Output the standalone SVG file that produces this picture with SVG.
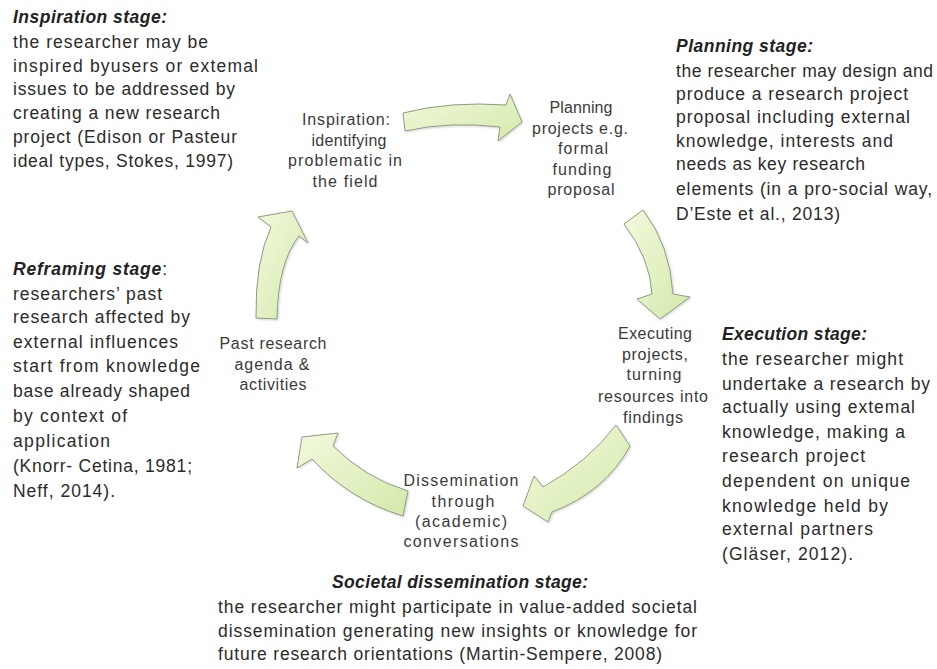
<svg xmlns="http://www.w3.org/2000/svg" width="937" height="669" viewBox="0 0 937 669">
<style>
.st{font-family:"Liberation Sans",Arial,sans-serif;font-size:17.5px;fill:#2b2b2b}
.tt{font-family:"Liberation Sans",Arial,sans-serif;font-size:17.5px;font-weight:bold;font-style:italic;fill:#222}
.nd{font-family:"Liberation Sans",Arial,sans-serif;font-size:16px;fill:#3a3a3a;text-anchor:middle}
.arr{fill:url(#g);stroke:#8f9c82;stroke-width:1;filter:url(#sh)}
</style>
<defs>
<linearGradient id="g" x1="0" y1="0" x2="1" y2="1">
<stop offset="0" stop-color="#f3f9de"/>
<stop offset="1" stop-color="#d3e9aa"/>
</linearGradient>
<filter id="sh" x="-20%" y="-20%" width="140%" height="140%">
<feDropShadow dx="1" dy="1" stdDeviation="1.2" flood-color="#000" flood-opacity="0.18"/>
</filter>
</defs>
<rect width="937" height="669" fill="#fff"/>

<g id="connectors">
<path class="arr" d="M403,113 Q450,101 506,105 L510,94 L522,122 L498,141 L500,127 Q450,121 405,131 Z"/>
<path class="arr" d="M624,224 L643,210 Q670,245 673,294 L690,297 L660,319 L637,299 L652,294 Q650,258 624,224 Z"/>
<path class="arr" d="M616,425 Q588,462 543,487 L534,476 L523,506 L548,522 L552,512 Q605,492 630,446 Z"/>
<path class="arr" d="M408,491 Q365,478 333,446 L338,433 L302,437 L297,468 L312,459 Q350,500 403,516 Z"/>
<path class="arr" d="M256,318 Q255,262 271,227 L258,217 L292,211 L308,243 L299,236 Q278,262 277,319 Z"/>
</g>

<g id="node-inspiration">
<text class="nd" x="346" y="125" textLength="88" lengthAdjust="spacing">Inspiration:</text>
<text class="nd" x="349" y="146" textLength="75" lengthAdjust="spacing">identifying</text>
<text class="nd" x="345" y="166" textLength="114" lengthAdjust="spacing">problematic in</text>
<text class="nd" x="345" y="187" textLength="65" lengthAdjust="spacing">the field</text>
</g>

<g id="node-planning">
<text class="nd" x="581" y="113" textLength="63" lengthAdjust="spacing">Planning</text>
<text class="nd" x="580" y="134" textLength="96" lengthAdjust="spacing">projects e.g.</text>
<text class="nd" x="583" y="154" textLength="50" lengthAdjust="spacing">formal</text>
<text class="nd" x="582" y="175" textLength="59" lengthAdjust="spacing">funding</text>
<text class="nd" x="581" y="195" textLength="67" lengthAdjust="spacing">proposal</text>
</g>

<g id="node-executing">
<text class="nd" x="655" y="339" textLength="74" lengthAdjust="spacing">Executing</text>
<text class="nd" x="655" y="360" textLength="66" lengthAdjust="spacing">projects,</text>
<text class="nd" x="654" y="380" textLength="55" lengthAdjust="spacing">turning</text>
<text class="nd" x="653" y="402" textLength="110" lengthAdjust="spacing">resources into</text>
<text class="nd" x="653" y="423" textLength="60" lengthAdjust="spacing">findings</text>
</g>

<g id="node-dissemination">
<text class="nd" x="461" y="486" textLength="115" lengthAdjust="spacing">Dissemination</text>
<text class="nd" x="463" y="507" textLength="63" lengthAdjust="spacing">through</text>
<text class="nd" x="461" y="527" textLength="92" lengthAdjust="spacing">(academic)</text>
<text class="nd" x="461" y="547" textLength="115" lengthAdjust="spacing">conversations</text>
</g>

<g id="node-past">
<text class="nd" x="273" y="349" textLength="107" lengthAdjust="spacing">Past research</text>
<text class="nd" x="272" y="370" textLength="75" lengthAdjust="spacing">agenda &amp;</text>
<text class="nd" x="273" y="390" textLength="67" lengthAdjust="spacing">activities</text>
</g>

<g id="inspiration-stage">
<text class="tt" x="13" y="23" textLength="154" lengthAdjust="spacing">Inspiration stage:</text>
<text class="st" x="13" y="48" textLength="195" lengthAdjust="spacing">the researcher may be</text>
<text class="st" x="13" y="72" textLength="245" lengthAdjust="spacing">inspired byusers or extemal</text>
<text class="st" x="13" y="95" textLength="222" lengthAdjust="spacing">issues to be addressed by</text>
<text class="st" x="13" y="119" textLength="207" lengthAdjust="spacing">creating a new research</text>
<text class="st" x="13" y="143" textLength="224" lengthAdjust="spacing">project (Edison or Pasteur</text>
<text class="st" x="13" y="167" textLength="220" lengthAdjust="spacing">ideal types, Stokes, 1997)</text>
</g>

<g id="planning-stage">
<text class="tt" x="676" y="52" textLength="137" lengthAdjust="spacing">Planning stage:</text>
<text class="st" x="676" y="77" textLength="257" lengthAdjust="spacing">the researcher may design and</text>
<text class="st" x="676" y="100" textLength="232" lengthAdjust="spacing">produce a research project</text>
<text class="st" x="676" y="123" textLength="234" lengthAdjust="spacing">proposal including external</text>
<text class="st" x="676" y="147" textLength="217" lengthAdjust="spacing">knowledge, interests and</text>
<text class="st" x="676" y="170" textLength="189" lengthAdjust="spacing">needs as key research</text>
<text class="st" x="676" y="195" textLength="256" lengthAdjust="spacing">elements (in a pro-social way,</text>
<text class="st" x="676" y="220" textLength="164" lengthAdjust="spacing">D’Este et al., 2013)</text>
</g>

<g id="reframing-stage">
<text class="tt" x="13" y="275" textLength="154" lengthAdjust="spacing">Reframing stage<tspan style="font-weight:normal;font-style:normal">:</tspan></text>
<text class="st" x="13" y="300" textLength="149" lengthAdjust="spacing">researchers’ past</text>
<text class="st" x="13" y="323" textLength="177" lengthAdjust="spacing">research affected by</text>
<text class="st" x="13" y="348" textLength="165" lengthAdjust="spacing">external influences</text>
<text class="st" x="13" y="372" textLength="187" lengthAdjust="spacing">start from knowledge</text>
<text class="st" x="13" y="397" textLength="177" lengthAdjust="spacing">base already shaped</text>
<text class="st" x="13" y="422" textLength="114" lengthAdjust="spacing">by context of</text>
<text class="st" x="13" y="447" textLength="97" lengthAdjust="spacing">application</text>
<text class="st" x="13" y="472" textLength="179" lengthAdjust="spacing">(Knorr- Cetina, 1981;</text>
<text class="st" x="13" y="497" textLength="102" lengthAdjust="spacing">Neff, 2014).</text>
</g>

<g id="execution-stage">
<text class="tt" x="722" y="340" textLength="145" lengthAdjust="spacing">Execution stage:</text>
<text class="st" x="722" y="365" textLength="181" lengthAdjust="spacing">the researcher might</text>
<text class="st" x="722" y="390" textLength="208" lengthAdjust="spacing">undertake a research by</text>
<text class="st" x="722" y="413" textLength="193" lengthAdjust="spacing">actually using extemal</text>
<text class="st" x="722" y="438" textLength="183" lengthAdjust="spacing">knowledge, making a</text>
<text class="st" x="722" y="462" textLength="143" lengthAdjust="spacing">research project</text>
<text class="st" x="722" y="487" textLength="188" lengthAdjust="spacing">dependent on unique</text>
<text class="st" x="722" y="512" textLength="166" lengthAdjust="spacing">knowledge held by</text>
<text class="st" x="722" y="535" textLength="151" lengthAdjust="spacing">external partners</text>
<text class="st" x="722" y="560" textLength="131" lengthAdjust="spacing">(Gläser, 2012).</text>
</g>

<g id="societal-stage">
<text class="tt" x="460" y="588" text-anchor="middle" textLength="256" lengthAdjust="spacing">Societal dissemination stage:</text>
<text class="st" x="218" y="613" textLength="479" lengthAdjust="spacing">the researcher might participate in value-added societal</text>
<text class="st" x="218" y="637" textLength="479" lengthAdjust="spacing">dissemination generating new insights or knowledge for</text>
<text class="st" x="218" y="660" textLength="444" lengthAdjust="spacing">future research orientations (Martin-Sempere, 2008)</text>
</g>
</svg>
